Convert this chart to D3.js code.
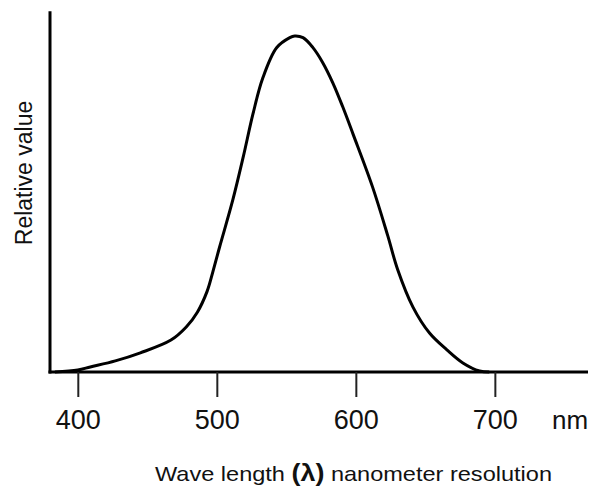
<!DOCTYPE html>
<html>
<head>
<meta charset="utf-8">
<script src="https://cdn.jsdelivr.net/npm/d3@7"></script>
<style>
  body { margin: 0; background: #fff; }
  text { font-family: "Liberation Sans", Arial, sans-serif; fill: #111; }
</style>
</head>
<body>
<svg id="chart" width="594" height="489"></svg>
<script>
// wavelength (nm) and relative sensitivity
var wavelengths = [383.5, 400, 409, 427, 445, 467, 478, 486, 493, 497, 502, 511.5, 519, 526, 533, 543, 552.5, 556, 562, 569, 576, 583.5, 590.5, 598, 612, 623, 630, 641, 653, 665.5, 677, 689, 696];
var values      = [0, 0.006, 0.015, 0.033, 0.057, 0.095, 0.134, 0.178, 0.240, 0.296, 0.372, 0.512, 0.640, 0.768, 0.874, 0.965, 0.995, 1.0, 0.995, 0.966, 0.922, 0.860, 0.790, 0.708, 0.551, 0.405, 0.306, 0.194, 0.116, 0.066, 0.027, 0.003, 0];
var tickValues  = [400, 500, 600, 700];

var data = wavelengths.map(function(w, i) { return {w: w, v: values[i]}; });

var svg = d3.select('#chart');
var x = d3.scaleLinear().domain([380, 767]).range([50, 588]);
var y = d3.scaleLinear().domain([0, 1]).range([372, 36]);

// axes as plain lines
svg.append("line")
  .attr("x1", x(380)).attr("y1", y(1.074))
  .attr("x2", x(380)).attr("y2", y(0) + 1.5)
  .style("stroke", "#000").style("stroke-width", 3);

svg.append("line")
  .attr("x1", x(380) - 1.5).attr("y1", y(0))
  .attr("x2", x(767)).attr("y2", y(0))
  .style("stroke", "#000").style("stroke-width", 3);

var xAxis = d3.axisBottom(x)
  .tickValues(tickValues)
  .tickSize(25)
  .tickFormat(d3.format("d"));

var gx = svg.append("g")
  .attr("transform", "translate(0," + y(0) + ")")
  .call(xAxis);
gx.select(".domain").remove();
gx.selectAll(".tick line").style("stroke", "#222").style("stroke-width", 2);
gx.selectAll(".tick text")
  .attr("y", 57)
  .attr("dy", 0)
  .style("font-size", "27px")
  .style("font-family", "'Liberation Sans', Arial, sans-serif")
  .attr("fill", "#111");

svg.append("text")
  .attr("x", 552).attr("y", 429)
  .style("font-size", "26px")
  .text("nm");

// the curve
var line = d3.line()
  .x(function(d) { return x(d.w); })
  .y(function(d) { return y(d.v); })
  .curve(d3.curveCatmullRom.alpha(0.5));

svg.append("path")
  .datum(data)
  .attr("d", line)
  .style("fill", "none")
  .style("stroke", "#000")
  .style("stroke-width", 3);

// axis titles
var xt = svg.append("text")
  .attr("x", 155).attr("y", 481)
  .style("font-size", "21px")
  .attr("textLength", 397)
  .attr("lengthAdjust", "spacingAndGlyphs");
xt.append("tspan").text("Wave length ");
xt.append("tspan").style("font-weight", "bold").style("font-size", "24px").text("(λ)");
xt.append("tspan").text(" nanometer resolution");

svg.append("text")
  .attr("transform", "translate(32,173) rotate(-90)")
  .attr("text-anchor", "middle")
  .style("font-size", "23px")
  .text("Relative value");
</script>
</body>
</html>
